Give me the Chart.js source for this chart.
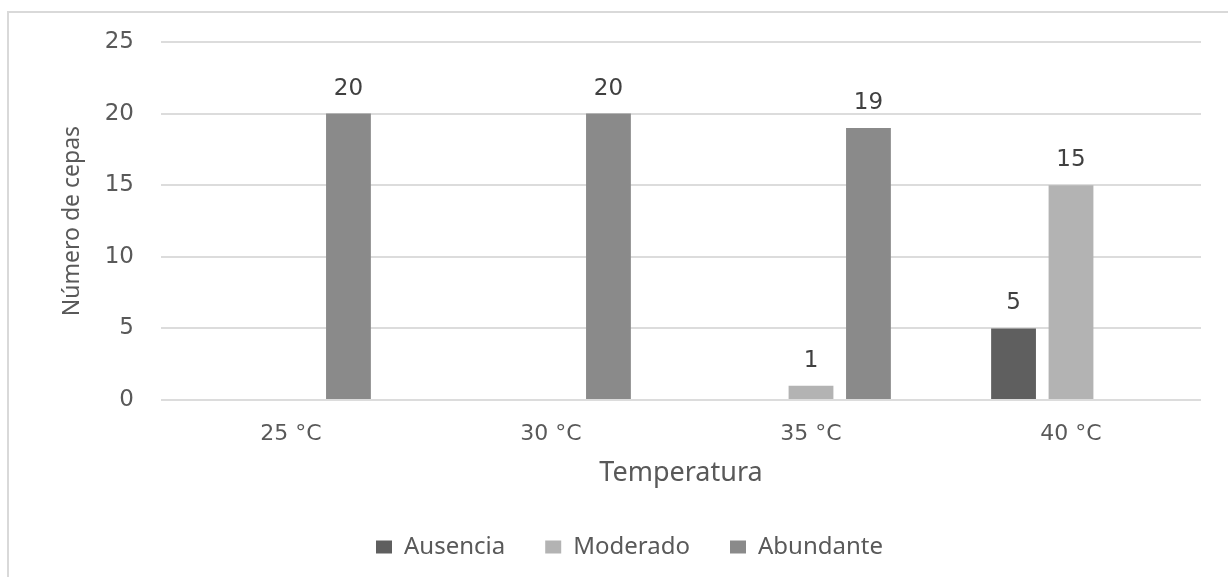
<!DOCTYPE html>
<html>
<head>
<meta charset="utf-8">
<script src="https://cdn.jsdelivr.net/npm/chart.js@4.4.1/dist/chart.umd.min.js"></script>
<style>
    html, body { margin: 0; padding: 0; background: #fff; overflow: hidden; }
    body { width: 1228px; height: 577px; position: relative; }
    #frame {
        position: absolute; left: 7px; top: 11px;
        width: 1300px; height: 700px;
        border: 2px solid #d9d9d9; box-sizing: border-box;
    }
    #wrap { position: absolute; left: 10px; top: 13px; width: 1239px; height: 620px; }
</style>
</head>
<body>
<div id="frame"></div>
<div id="wrap"><canvas id="temp_chart"></canvas></div>
<script>
const categories = ["25 °C", "30 °C", "35 °C", "40 °C"];
const series_names = ["Ausencia", "Moderado", "Abundante"];
const ausencia = [0, 0, 0, 5];
const moderado = [0, 0, 1, 15];
const abundante = [20, 20, 19, 0];
const series_colors = ["#5f5f5f", "#b3b3b3", "#8a8a8a"];
const y_ticks = [0, 5, 10, 15, 20, 25];

// draws the value over each bar, skipping zeros like the original
const bar_labels = {
    id: 'bar_labels',
    afterDatasetsDraw(chart) {
        const ctx = chart.ctx;
        ctx.save();
        ctx.font = '23px "DejaVu Sans", sans-serif';
        ctx.fillStyle = '#404040';
        ctx.textAlign = 'center';
        ctx.textBaseline = 'middle';
        chart.data.datasets.forEach((ds, i) => {
            chart.getDatasetMeta(i).data.forEach((bar, j) => {
                let v = ds.data[j];
                if (!v) return;
                ctx.fillText(String(v), bar.x, bar.y - 25);
            });
        });
        ctx.restore();
    }
};

// the legend is centred on the whole frame, not on the plot + left axis
const legend_shift = {
    id: 'legend_shift',
    afterLayout(chart) {
        let dx = 24;
        chart.legend.left += dx;
        chart.legend.right += dx;
    }
};

let data = {
    labels: categories,
    datasets: [
        { label: series_names[0], data: ausencia, backgroundColor: series_colors[0] },
        { label: series_names[1], data: moderado, backgroundColor: series_colors[1] },
        { label: series_names[2], data: abundante, backgroundColor: series_colors[2] }
    ]
};

let config = {
    type: 'bar',
    data: data,
    options: {
        responsive: true,
        maintainAspectRatio: false,
        animation: false,
        categoryPercentage: 0.663,
        barPercentage: 0.78,
        layout: {
            padding: { left: 0, right: 48, top: 29, bottom: 64 }
        },
        plugins: {
            tooltip: { enabled: false },
            legend: {
                position: 'bottom',
                labels: {
                    color: '#595959',
                    font: { family: '"Noto Sans", sans-serif', size: 24 },
                    boxWidth: 16,
                    boxHeight: 13,
                    padding: 40
                }
            }
        },
        scales: {
            x: {
                grid: { display: false, drawTicks: false },
                border: { display: false },
                ticks: {
                    color: '#595959',
                    padding: 21,
                    font: { family: '"DejaVu Sans", sans-serif', size: 22 }
                },
                title: {
                    display: true,
                    text: 'Temperatura',
                    color: '#595959',
                    font: { family: '"Noto Sans", sans-serif', size: 27 },
                    padding: { top: 0, bottom: 5 }
                },
                afterFit(scale) { scale.height = 95; }
            },
            y: {
                min: 0,
                max: 25,
                afterBuildTicks(scale) { scale.ticks = y_ticks.map(v => ({ value: v })); },
                grid: { color: '#dcdcdc', lineWidth: 2, drawTicks: false },
                border: { display: false },
                ticks: {
                    color: '#595959',
                    padding: 27,
                    font: { family: '"DejaVu Sans", sans-serif', size: 23 }
                },
                title: {
                    display: true,
                    text: 'Número de cepas',
                    color: '#595959',
                    font: { family: '"Noto Sans", sans-serif', size: 23 },
                    padding: { top: 49, bottom: 0 }
                },
                afterFit(scale) {
                    scale.width = 151;
                    scale.paddingTop = 0;
                    scale.paddingBottom = 0;
                }
            }
        }
    },
    plugins: [bar_labels, legend_shift]
};

let temp_chart = new Chart(document.getElementById('temp_chart'), config);
</script>
</body>
</html>
